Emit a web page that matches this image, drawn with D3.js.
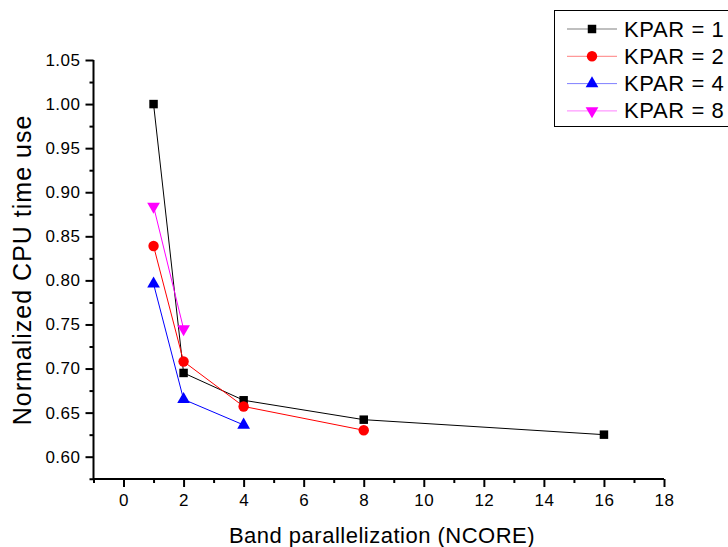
<!DOCTYPE html>
<html><head><meta charset="utf-8">
<script src="https://cdn.jsdelivr.net/npm/d3@7"></script>
<style>body{margin:0;background:#fff}svg{display:block;font-family:Arial,"Liberation Sans",sans-serif}</style>
</head><body><svg id="c" width="728" height="547"></svg>
<script>
const ncore = [1, 2, 4, 8, 16];
const kpar1 = [1.000, 0.695, 0.664, 0.642, 0.625];
const kpar2 = [0.839, 0.708, 0.657, 0.630];
const kpar4 = [0.796, 0.665, 0.636];
const kpar8 = [0.884, 0.745];
const seriesNames = ["KPAR = 1", "KPAR = 2", "KPAR = 4", "KPAR = 8"];
const xTicks = [0, 2, 4, 6, 8, 10, 12, 14, 16, 18];
const yTicks = [0.60, 0.65, 0.70, 0.75, 0.80, 0.85, 0.90, 0.95, 1.00, 1.05];

const series = [
  {name: seriesNames[0], vals: kpar1, color: "#000000", sym: d3.symbolSquare, size: 72, rot: 0},
  {name: seriesNames[1], vals: kpar2, color: "#ff0000", sym: d3.symbolCircle, size: 85, rot: 0},
  {name: seriesNames[2], vals: kpar4, color: "#0000ff", sym: d3.symbolTriangle, size: 70, rot: 0},
  {name: seriesNames[3], vals: kpar8, color: "#ff00ff", sym: d3.symbolTriangle, size: 70, rot: 180}
];

const svg = d3.select("#c");
const x = d3.scaleLinear().domain([-1, 18]).range([93.5, 664]);
const y = d3.scaleLinear().domain([0.5747, 1.05]).range([479, 60]);

// axes
const xAxis = svg.append("g").attr("transform", "translate(0,479)")
  .call(d3.axisBottom(x).tickValues(xTicks).tickSize(8).tickPadding(7).tickFormat(d3.format("d")));
const xMinor = svg.append("g").attr("transform", "translate(0,479)")
  .call(d3.axisBottom(x).tickValues(d3.range(-1, 18, 2)).tickSize(4).tickFormat(""));
const yAxis = svg.append("g").attr("transform", "translate(93.5,0)")
  .call(d3.axisLeft(y).tickValues(yTicks).tickSize(8).tickPadding(5).tickFormat(d3.format(".2f")));
const yMinor = svg.append("g").attr("transform", "translate(93.5,0)")
  .call(d3.axisLeft(y).tickValues(d3.range(0.575, 1.05, 0.05)).tickSize(4).tickFormat(""));
[xAxis, xMinor, yAxis, yMinor].forEach(g => {
  g.selectAll(".domain").attr("stroke", "#000").attr("stroke-width", 2);
  g.selectAll(".tick line").attr("stroke", "#000").attr("stroke-width", 2);
  g.selectAll("text").attr("font-size", 17).attr("letter-spacing", 0.5).attr("fill", "#000")
    .attr("font-family", "Arial, 'Liberation Sans', sans-serif");
});
xAxis.select(".domain").attr("d", "M93.5,0H664");
yAxis.select(".domain").attr("d", "M0,479V60");
xMinor.select(".domain").remove();
yMinor.select(".domain").remove();

// axis titles
svg.append("text").attr("x", 382).attr("y", 543).attr("text-anchor", "middle")
  .attr("font-size", 22).attr("letter-spacing", 0.5).text("Band parallelization (NCORE)");
svg.append("text").attr("transform", "translate(31,270) rotate(-90)").attr("text-anchor", "middle")
  .attr("font-size", 25).attr("letter-spacing", 1).text("Normalized CPU time use");

// lines and markers
const line = d3.line().x(d => x(d[0])).y(d => y(d[1]));
series.forEach(s => {
  const pts = s.vals.map((v, i) => [ncore[i], v]);
  svg.append("path").attr("d", line(pts)).attr("fill", "none").attr("stroke", s.color).attr("stroke-width", 1);
  svg.selectAll(null).data(pts).enter().append("path")
    .attr("d", d3.symbol().type(s.sym).size(s.size))
    .attr("transform", d => `translate(${x(d[0])},${y(d[1])}) rotate(${s.rot})`)
    .attr("fill", s.color);
});

// legend
svg.append("rect").attr("x", 554.5).attr("y", 10.5).attr("width", 190).attr("height", 116)
  .attr("fill", "#fff").attr("stroke", "#000").attr("stroke-width", 1);
series.forEach((s, i) => {
  const ly = 29 + i * 27.3;
  svg.append("line").attr("x1", 567).attr("x2", 617).attr("y1", ly).attr("y2", ly)
    .attr("stroke", s.color).attr("stroke-width", 1).attr("stroke-opacity", 0.5);
  svg.append("path").attr("d", d3.symbol().type(s.sym).size(s.size))
    .attr("transform", `translate(592,${ly}) rotate(${s.rot})`).attr("fill", s.color);
  svg.append("text").attr("x", 624).attr("y", ly + 7.5).attr("font-size", 22).attr("letter-spacing", 0.6).text(s.name);
});
</script></body></html>
